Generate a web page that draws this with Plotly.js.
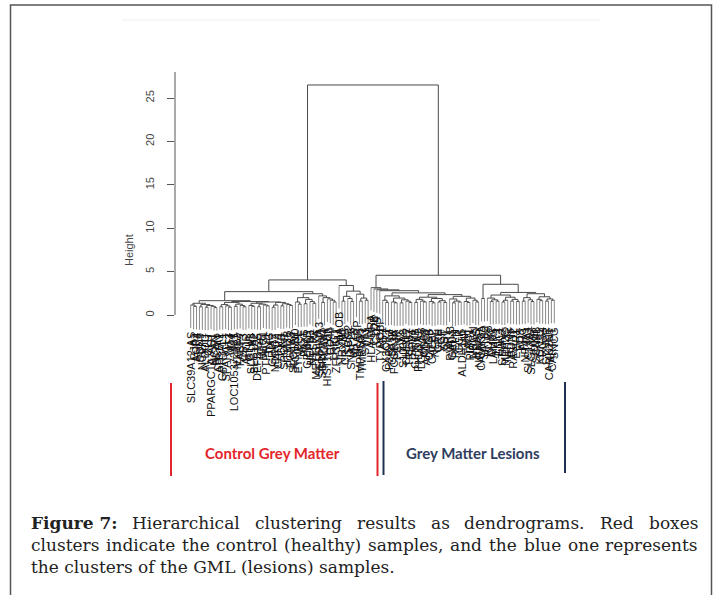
<!DOCTYPE html>
<html><head><meta charset="utf-8">
<script src="https://cdn.plot.ly/plotly-3.0.1.min.js"></script>
<style>html,body{margin:0;padding:0;background:#fff;} #chart{width:718px;height:595px;}</style>
</head><body><div id="chart"></div>
<script>
// ---------------- DATA ----------------
// Leaf labels in dendrogram order
const labelsControl = [
 "SLC39A12-AS","GJA1","AQP4","SOX9","NCEH1","ALDOC","CLU","PPARGC1A-AS1","NCAN","BCAN",
 "ATP1A2","GPR37L1","SPARCL1","MT3","ID4","LOC105372481","NTRK2","FABP7","CST3","APOE",
 "GLUL","SLC1A3","SLC1A2","DEFB125","CPE","MLC1","PTPRZ1","TNC","GRIA2","NDRG2",
 "CHI3L1","CKB","SPON1","ITM2B","FGFR3","SLC4A4","KCNJ10","ETNPPL","AGT","PAX6",
 "GPM6B","HEPN1","NTSR2","METTL7A","SERPINA3","SERPINI1","PRODH","HIST1H2BK","CD44","LRIG1",
 "ZFP36L1","MAOB","NRXN1","CRYAB","SCG2","SNAP25","MT1X","SRARP","TMPRSS5","TMEM47",
 "SYT1","VIM"];
const labelsLesion = [
 "HLA-DRA","C1QB","CD74","TYROBP","AIF1","CX3CR1","P2RY12","CSF1R","FCGR3A","PENK",
 "LYZ","S100A8","CHI3L2","TREM2","SPP1","GPNMB","PHLDA1","LGALS3","CD68","APOC1",
 "CHGB","CALB2","NEFL","CRH","VGF","SST","NPY","PVALB","GAD1","RELN",
 "CCK","ALDH1L1","VIP","TAC1","PDYN","NRGN","KRAS","NRARP","CAMK2A","SATB2",
 "RORB","CUX2","LAMP5","THY1","ENC1","STMN2","MEF2C","NPTX2","BDNF","RASL12",
 "EGR1","FOS","ARC","NR4A1","SLC14A1","SLC17A7","JUNB","SCN4B","KCNS1","RGS4",
 "SYNPR","CAMK2N1","CARTPT","SNCG"];

// Sub-trees: "(child,child)height", "*" = next leaf
const treeLA1a = "((*,(*,*)1.0)1.15,((*,*)0.95,((*,*)0.9,(*,(*,*)0.85)1.0)1.1)1.2)1.35";
const treeLA1b = "((((*,*)0.95,(*,(*,*)0.9)1.05)1.2,((*,*)1.0,(*,(*,*)0.95)1.1)1.25)1.45,(((*,(*,*)1.0)1.1,((*,*)0.95,(*,(*,*)1.05)1.15)1.25)1.35,(((*,*)0.9,*)1.15,((*,*)1.05,(*,(*,*)1.1)1.2)1.3)1.45)1.5)1.55";
const treeLA2  = "(((*,(*,*)1.25)1.5,((*,*)1.3,(*,(*,*)1.35)1.55)1.8)2.0,(*,((*,*)1.45,(*,(*,(*,*)1.5)1.7)1.85)2.0)2.2)2.45";
const treeLB   = "(*,(((*,*)1.6,(*,(*,*)1.55)1.9)2.15,(*,((*,*)1.6,(*,*)1.7)1.95)2.4)2.75)3.4";
const treeRA_A  = "((*,(*,*)1.45)1.7,((*,(*,*)1.4)1.5,((*,*)1.4,(*,(*,*)1.45)1.6)1.75)1.95)2.2";
const treeRA_B1 = "(((*,*)1.45,(*,(*,*)1.5)1.6)1.8,((*,(*,*)1.4)1.55,((*,*)1.5,(*,*)1.45)1.65)1.9)2.05";
const treeRA_B2 = "((*,((*,*)1.4,(*,*)1.5)1.6)1.85,((*,(*,*)1.45)1.55,(*,(*,*)1.5)1.7)1.95)2.15";
const treeRB_1  = "((*,((*,*)1.55,(*,*)1.6)1.75)1.95,(((*,*)1.5,*)1.7,((*,*)1.6,(*,*)1.55)1.8)2.05)2.3";
const treeRB_2  = "(((*,*)1.6,(*,(*,*)1.55)1.75)2.0,((*,(*,*)1.65)1.8,((*,*)1.6,(*,*)1.7)1.85)2.1)2.45";
const chainHeightsRA = [3.15, 3.0, 2.9, 2.8];   // successive single-leaf merges
const heightRA_B = 2.35, heightRA_rest = 2.55;
const heightRB_left = 1.9, heightRB_right = 2.6, heightRB = 3.54;
const heightLA1 = 1.65, heightLA = 2.69, heightControl = 4.04, heightLesion = 4.58, heightRoot = 26.5;
const yTickVals = [0, 5, 10, 15, 20, 25];
const hangFraction = 0.1;

// ---------------- BUILD ----------------
const W = 718, H = 595;
const px = x => x / W, py = y => 1 - y / H;

let treeRA = `(${treeRA_A},(${treeRA_B1},${treeRA_B2})${heightRA_B})${heightRA_rest}`;
for (let k = chainHeightsRA.length - 1; k >= 0; k--) treeRA = `(*,${treeRA})${chainHeightsRA[k]}`;
const treeRB = `((*,*)${heightRB_left},(${treeRB_1},${treeRB_2})${heightRB_right})${heightRB}`;
const treeString = `((((${treeLA1a},${treeLA1b})${heightLA1},${treeLA2})${heightLA},${treeLB})${heightControl},(${treeRA},${treeRB})${heightLesion})${heightRoot}`;
const labels = labelsControl.concat(labelsLesion);

function parseTree(s) {
  s = s.replace(/\s+/g, ''); let i = 0;
  function node() {
    if (s[i] === '*') { i++; return {leaf: true}; }
    i++; const kids = [node()];
    while (s[i] === ',') { i++; kids.push(node()); }
    i++;
    const m = /^[0-9.]+/.exec(s.slice(i)); i += m[0].length;
    return {h: parseFloat(m[0]), kids};
  }
  return node();
}
const root = parseTree(treeString);
let leafCount = 0;
function place(n) {
  if (n.leaf) { leafCount++; n.x = leafCount; n.idx = leafCount - 1; return; }
  n.kids.forEach(place);
  n.x = (n.kids[0].x + n.kids[n.kids.length - 1].x) / 2;
}
place(root);
const hang = hangFraction * root.h;
const bx = [], by = [], lx = [], ly = [], leafEnds = [];
function draw(n) {
  if (n.leaf) return;
  n.kids.forEach(k => {
    if (k.leaf) { lx.push(k.x, k.x, null); ly.push(n.h, n.h - hang, null); leafEnds[k.idx] = {x: k.x, y: n.h - hang}; }
    else { bx.push(k.x, k.x, null); by.push(k.h, n.h, null); draw(k); }
  });
  bx.push(n.kids[0].x, n.kids[n.kids.length - 1].x, null); by.push(n.h, n.h, null);
}
draw(root);

// geometry
const leafLeftPx = 190.7, leafRightPx = 554.3, axisPx = 175, plotRightPx = 570;
const step = (leafRightPx - leafLeftPx) / (leafCount - 1);
const xRange = [1 - (leafLeftPx - axisPx) / step, leafCount + (plotRightPx - leafRightPx) / step];
const zeroPx = 315, ppu = 8.68, topPx = 72, botPx = 345;
const yRange = [-(botPx - zeroPx) / ppu, (zeroPx - topPx) / ppu];

const traces = [
  {x: lx, y: ly, mode: 'lines', line: {color: '#8a8a8a', width: 1}, hoverinfo: 'skip', type: 'scatter'},
  {x: bx, y: by, mode: 'lines', line: {color: '#4a4a4a', width: 1}, hoverinfo: 'skip', type: 'scatter'}
];

const annotations = [];
leafEnds.forEach((e, i) => {
  annotations.push({x: e.x, y: e.y - 0.3, xref: 'x', yref: 'y', text: labels[i] || '', textangle: -90,
    xanchor: 'center', yanchor: 'top', showarrow: false, borderpad: 0,
    font: {family: 'Liberation Sans, Arial, sans-serif', size: 11, color: '#111'}});
});
annotations.push({x: px(121), y: py(250), xref: 'paper', yref: 'paper', text: 'Height', textangle: -90,
  showarrow: false, font: {family: 'Liberation Sans, Arial, sans-serif', size: 11, color: '#444'}});
annotations.push({x: px(272), y: py(464), xref: 'paper', yref: 'paper', text: '<b>Control Grey Matter</b>',
  showarrow: false, font: {family: 'Lato, sans-serif', size: 15, color: '#e3262b'}});
annotations.push({x: px(473), y: py(464), xref: 'paper', yref: 'paper', text: '<b>Grey Matter Lesions</b>',
  showarrow: false, font: {family: 'Lato, sans-serif', size: 15, color: '#2f3d60'}});

// caption (justified)
const capFont = 'DejaVu Serif', capSize = 17, capLeft = 30, capRight = 697;
const ctx = document.createElement('canvas').getContext('2d');
function wordWidth(t, bold) { ctx.font = (bold ? 'bold ' : '') + capSize + 'px "' + capFont + '"'; return ctx.measureText(t).width; }
function justifyLine(words, yPx) {
  const ws = words.map(w => wordWidth(w.t, w.b));
  const total = ws.reduce((a, b) => a + b, 0);
  const gap = (capRight - capLeft - total) / (words.length - 1);
  let x = capLeft;
  words.forEach((w, i) => {
    annotations.push({x: px(x), y: py(yPx), xref: 'paper', yref: 'paper', xanchor: 'left', yanchor: 'middle',
      text: w.b ? '<b>' + w.t + '</b>' : w.t, showarrow: false, borderpad: 0,
      font: {family: capFont, size: capSize, color: '#222'}});
    x += ws[i] + gap;
  });
}
justifyLine([{t: 'Figure 7:', b: true}].concat('Hierarchical clustering results as dendrograms. Red boxes'.split(' ').map(t => ({t}))), 523);
justifyLine('clusters indicate the control (healthy) samples, and the blue one represents'.split(' ').map(t => ({t})), 545);
annotations.push({x: px(capLeft), y: py(567), xref: 'paper', yref: 'paper', xanchor: 'left', yanchor: 'middle',
  text: 'the clusters of the GML (lesions) samples.', showarrow: false, borderpad: 0,
  font: {family: capFont, size: capSize, color: '#222'}});

const shapes = [
  {type: 'line', xref: 'paper', yref: 'y', x0: px(axisPx), x1: px(axisPx), y0: 0, y1: yRange[1], line: {color: '#555', width: 1}},
  {type: 'line', xref: 'paper', yref: 'paper', x0: px(171), x1: px(171), y0: py(383), y1: py(476), line: {color: '#e3262b', width: 2}},
  {type: 'line', xref: 'paper', yref: 'paper', x0: px(377.5), x1: px(377.5), y0: py(383), y1: py(476), line: {color: '#e3262b', width: 2}},
  {type: 'line', xref: 'paper', yref: 'paper', x0: px(383.5), x1: px(383.5), y0: py(381), y1: py(475), line: {color: '#1f3050', width: 2}},
  {type: 'line', xref: 'paper', yref: 'paper', x0: px(565), x1: px(565), y0: py(382), y1: py(473), line: {color: '#1f3050', width: 2}},
  {type: 'line', xref: 'paper', yref: 'paper', x0: px(122), x1: px(600), y0: py(20), y1: py(20), line: {color: '#f9f9f9', width: 3}},
  {type: 'path', xref: 'paper', yref: 'paper', path: `M ${px(10.5)} ${py(600)} L ${px(10.5)} ${py(5)} L ${px(711.5)} ${py(5)} L ${px(711.5)} ${py(600)}`,
   line: {color: '#555', width: 1.5}}
];

const layout = {
  width: W, height: H, margin: {l: 0, r: 0, t: 0, b: 0}, showlegend: false,
  paper_bgcolor: '#fff', plot_bgcolor: 'rgba(0,0,0,0)',
  xaxis: {domain: [px(axisPx), px(plotRightPx)], range: xRange, showticklabels: false, showgrid: false,
    zeroline: false, showline: false, ticks: ''},
  yaxis: {domain: [py(botPx), py(topPx)], range: yRange, tickvals: yTickVals, ticktext: yTickVals.map(String),
    ticks: 'outside', ticklen: 7, tickwidth: 1, tickcolor: '#555', tickangle: -90, ticklabelstandoff: 9,
    tickfont: {family: 'Liberation Sans, Arial, sans-serif', size: 11, color: '#444'},
    showgrid: false, zeroline: false, showline: false},
  annotations, shapes
};
Plotly.newPlot('chart', traces, layout, {staticPlot: true, displayModeBar: false});
</script></body></html>
